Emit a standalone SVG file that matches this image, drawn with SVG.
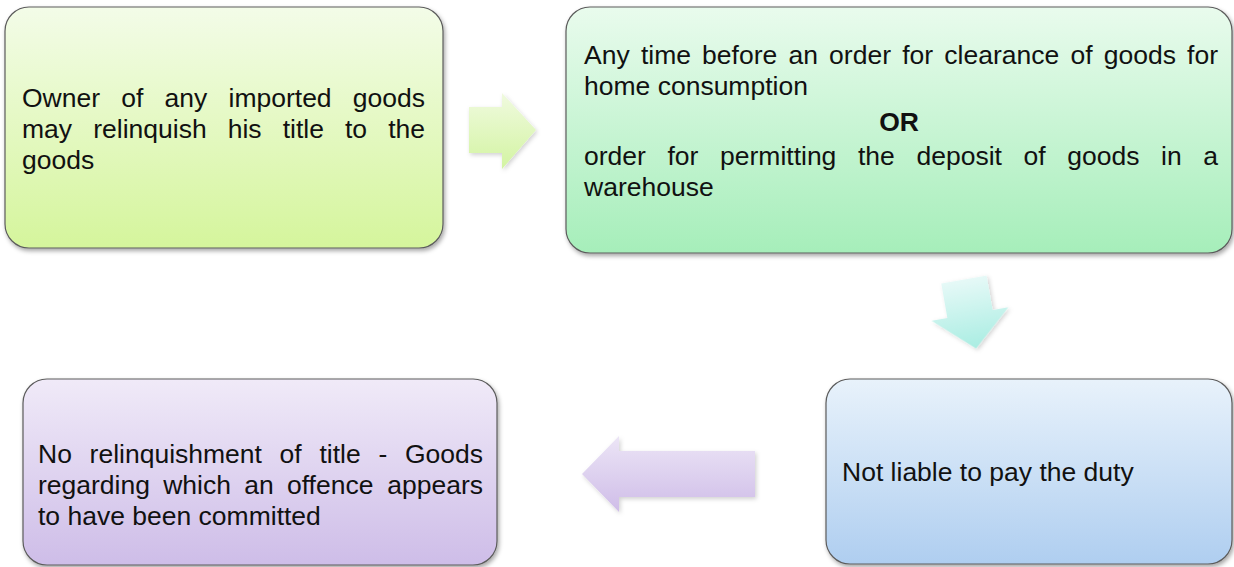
<svg xmlns="http://www.w3.org/2000/svg" width="1234" height="567" viewBox="0 0 1234 567">
  <defs>
    <linearGradient id="g1" x1="0" y1="0" x2="0" y2="1">
      <stop offset="0" stop-color="#f3fce8"/>
      <stop offset="1" stop-color="#d5f59c"/>
    </linearGradient>
    <linearGradient id="g2" x1="0" y1="0" x2="0" y2="1">
      <stop offset="0" stop-color="#e9fbed"/>
      <stop offset="1" stop-color="#a6eeba"/>
    </linearGradient>
    <linearGradient id="g3" x1="0" y1="0" x2="0" y2="1">
      <stop offset="0" stop-color="#f0eaf8"/>
      <stop offset="1" stop-color="#cebde8"/>
    </linearGradient>
    <linearGradient id="g4" x1="0" y1="0" x2="0" y2="1">
      <stop offset="0" stop-color="#e8f2fb"/>
      <stop offset="1" stop-color="#afcef0"/>
    </linearGradient>
    <linearGradient id="ga1" x1="0" y1="0" x2="0" y2="1">
      <stop offset="0" stop-color="#f0fadf"/>
      <stop offset="1" stop-color="#d3f4a2"/>
    </linearGradient>
    <linearGradient id="ga2" x1="0" y1="0" x2="0" y2="1">
      <stop offset="0" stop-color="#e6f9f7"/>
      <stop offset="1" stop-color="#a9ede2"/>
    </linearGradient>
    <linearGradient id="ga3" x1="0" y1="0" x2="0" y2="1">
      <stop offset="0" stop-color="#ece5f6"/>
      <stop offset="1" stop-color="#cfbde8"/>
    </linearGradient>
    <filter id="sh" x="-5%" y="-5%" width="112%" height="115%">
      <feDropShadow dx="1.5" dy="2.5" stdDeviation="2" flood-color="#000" flood-opacity="0.35"/>
    </filter>
    <filter id="sha" x="-20%" y="-20%" width="150%" height="150%">
      <feDropShadow dx="1.5" dy="2" stdDeviation="2" flood-color="#000" flood-opacity="0.18"/>
    </filter>
  </defs>
  <style>
    .box { stroke: #5c5c5c; stroke-width: 1.2; filter: url(#sh); }
    .arr { stroke: none; filter: url(#sha); }
    text { font-family: "Liberation Sans", Arial, sans-serif; font-size: 26.5px; fill: #111; }
    .b { font-weight: bold; }
  </style>
  <rect width="1234" height="567" fill="#ffffff"/>

  <g id="connectors">
    <polygon class="arr" fill="url(#ga1)" points="469,107 502,107 502,93 536,130 502,169 502,153 469,153"/>
    <polygon class="arr" fill="url(#ga2)" transform="rotate(-10 970 314)" points="947,279 993,279 993,314 1009,314 970,349 931,314 947,314"/>
    <polygon class="arr" fill="url(#ga3)" points="582,474 619,436 619,451 755,451 755,497 619,497 619,512"/>
  </g>

  <g id="node1">
    <rect class="box" x="5" y="7" width="438" height="241" rx="24" ry="24" fill="url(#g1)"/>
    <text y="107"><tspan x="22">Owner</tspan><tspan x="121.3">of</tspan><tspan x="164.6">any</tspan><tspan x="228.5">imported</tspan><tspan x="352.8">goods</tspan></text>
    <text y="138"><tspan x="22">may</tspan><tspan x="93.2">relinquish</tspan><tspan x="227.7">his</tspan><tspan x="282.7">title</tspan><tspan x="345">to</tspan><tspan x="388.2">the</tspan></text>
    <text x="22" y="169">goods</text>
  </g>

  <g id="node2">
    <rect class="box" x="566" y="7" width="666" height="246" rx="24" ry="24" fill="url(#g2)"/>
    <text y="64"><tspan x="584">Any</tspan><tspan x="640.9">time</tspan><tspan x="702.1">before</tspan><tspan x="788.4">an</tspan><tspan x="829.1">order</tspan><tspan x="902.2">for</tspan><tspan x="944.3">clearance</tspan><tspan x="1070.4">of</tspan><tspan x="1103.7">goods</tspan><tspan x="1187.1">for</tspan></text>
    <text x="584" y="95">home consumption</text>
    <text class="b" x="899" y="131" text-anchor="middle">OR</text>
    <text y="165"><tspan x="584">order</tspan><tspan x="667.5">for</tspan><tspan x="720">permitting</tspan><tspan x="858">the</tspan><tspan x="916.5">deposit</tspan><tspan x="1023.6">of</tspan><tspan x="1067.3">goods</tspan><tspan x="1161.1">in</tspan><tspan x="1203.3">a</tspan></text>
    <text x="584" y="196">warehouse</text>
  </g>

  <g id="node3">
    <rect class="box" x="826" y="379" width="406" height="185" rx="24" ry="24" fill="url(#g4)"/>
    <text x="842" y="481">Not liable to pay the duty</text>
  </g>

  <g id="node4">
    <rect class="box" x="23" y="379" width="474" height="186" rx="24" ry="24" fill="url(#g3)"/>
    <text y="463"><tspan x="38">No</tspan><tspan x="89.6">relinquishment</tspan><tspan x="279.6">of</tspan><tspan x="319.4">title</tspan><tspan x="378.4">-</tspan><tspan x="404.9">Goods</tspan></text>
    <text y="494"><tspan x="38">regarding</tspan><tspan x="163.2">which</tspan><tspan x="244.2">an</tspan><tspan x="287">offence</tspan><tspan x="387.2">appears</tspan></text>
    <text x="38" y="525">to have been committed</text>
  </g>
</svg>
